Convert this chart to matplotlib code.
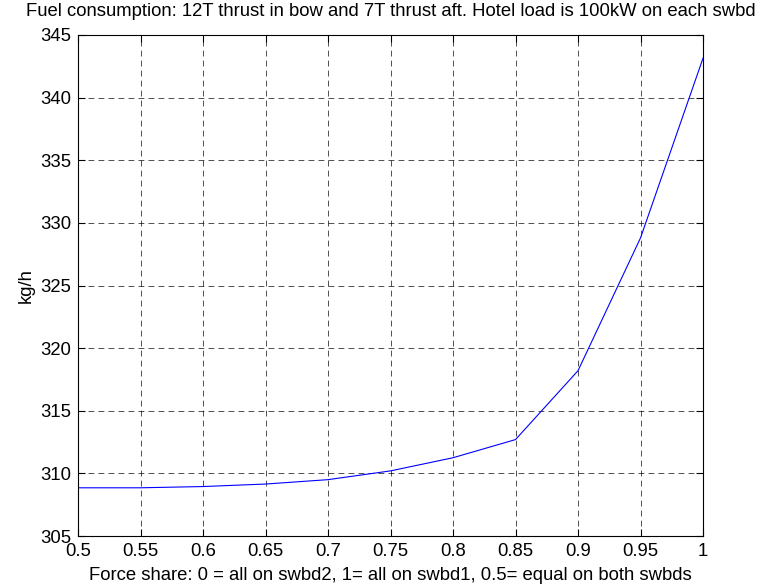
import matplotlib
matplotlib.use("Agg")
import matplotlib.pyplot as plt
import numpy as np

# force share vs fuel consumption
share = [0.5, 0.55, 0.6, 0.65, 0.7, 0.75, 0.8, 0.85, 0.9, 0.95, 1.0]
fuel = [308.85, 308.85, 308.95, 309.15, 309.5, 310.2, 311.25, 312.7, 318.2, 328.8, 343.15]

xticks = [0.5, 0.55, 0.6, 0.65, 0.7, 0.75, 0.8, 0.85, 0.9, 0.95, 1]
xticklabels = ["0.5", "0.55", "0.6", "0.65", "0.7", "0.75", "0.8", "0.85", "0.9", "0.95", "1"]
yticks = [305, 310, 315, 320, 325, 330, 335, 340, 345]

plt.rcParams['font.family'] = ['Liberation Sans', 'DejaVu Sans']
plt.rcParams['font.size'] = 13.3

fig = plt.figure(figsize=(7.62, 5.88), dpi=100)
ax = fig.add_axes([0.1024, 0.0884, 0.8202, 0.8521])

ax.plot(share, fuel, color=(0, 0, 1), lw=0.8)

ax.set_xlim(0.5, 1)
ax.set_ylim(305, 345)
ax.set_xticks(xticks)
ax.set_xticklabels(xticklabels)
ax.set_yticks(yticks)

ax.grid(True, color='black', linestyle=(0, (7, 5)), lw=0.6, alpha=0.8)
ax.tick_params(direction='in', top=True, right=True, length=5, width=0.8, pad=5)
for s in ax.spines.values():
    s.set_linewidth(0.8)

ax.set_title("Fuel consumption: 12T thrust in bow and 7T thrust aft. Hotel load is 100kW on each swbd",
             fontsize=13.3, pad=14)
ax.set_xlabel("Force share: 0 = all on swbd2, 1= all on swbd1, 0.5= equal on both swbds", labelpad=5)
ax.set_ylabel("kg/h", labelpad=4)

fig.savefig("out.png", dpi=100)
